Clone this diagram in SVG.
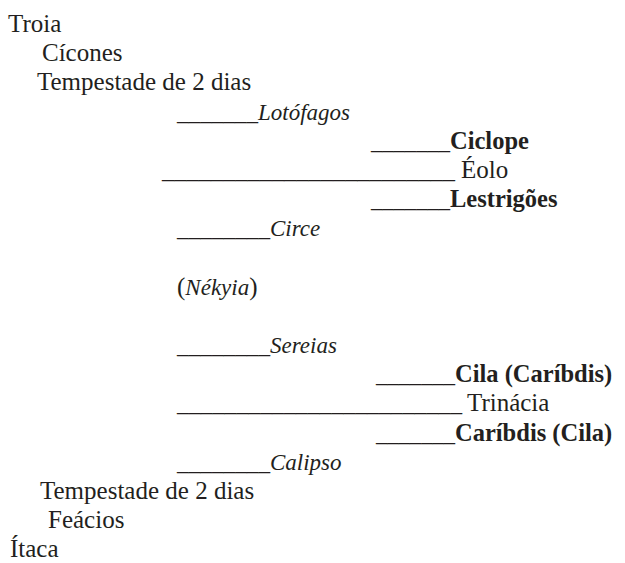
<svg xmlns="http://www.w3.org/2000/svg" width="625" height="563" viewBox="0 0 625 563">
<style>
text{font-family:'Liberation Serif','DejaVu Serif',serif;font-size:25px;fill:#231f20}
.i{font-style:italic;font-size:23px}
.b{font-weight:bold;font-size:24.5px}
.u{font-size:24px}
</style>
<rect width="625" height="563" fill="#fff"/>
<g id="troia"><text x="8" y="32">Troia</text></g>
<g id="cicones"><text x="42" y="61">Cícones</text></g>
<g id="tempestade1"><text x="37" y="90">Tempestade de 2 dias</text></g>
<g id="lotofagos"><text class="u" x="177" y="120" textLength="81" lengthAdjust="spacingAndGlyphs">_______</text><text class="i" x="258" y="120">Lotófagos</text></g>
<g id="ciclope"><text class="u" x="371" y="149" textLength="79" lengthAdjust="spacingAndGlyphs">_______</text><text class="b" x="450" y="149">Ciclope</text></g>
<g id="eolo"><text class="u" x="162" y="178" textLength="293" lengthAdjust="spacingAndGlyphs">________________________</text><text x="461" y="178">Éolo</text></g>
<g id="lestrigoes"><text class="u" x="371" y="207" textLength="79" lengthAdjust="spacingAndGlyphs">_______</text><text class="b" x="450" y="207">Lestrigões</text></g>
<g id="circe"><text class="u" x="177" y="236" textLength="93" lengthAdjust="spacingAndGlyphs">________</text><text class="i" x="270" y="236">Circe</text></g>
<g id="nekyia"><text x="177" y="295">(<tspan class="i">Nékyia</tspan>)</text></g>
<g id="sereias"><text class="u" x="177" y="353" textLength="93" lengthAdjust="spacingAndGlyphs">________</text><text class="i" x="270" y="353">Sereias</text></g>
<g id="cila"><text class="u" x="376" y="382" textLength="79" lengthAdjust="spacingAndGlyphs">_______</text><text class="b" x="455" y="382">Cila (Caríbdis)</text></g>
<g id="trinacia"><text class="u" x="177" y="411" textLength="285" lengthAdjust="spacingAndGlyphs">________________________</text><text x="467" y="411">Trinácia</text></g>
<g id="caribdis"><text class="u" x="376" y="441" textLength="79" lengthAdjust="spacingAndGlyphs">_______</text><text class="b" x="455" y="441">Caríbdis (Cila)</text></g>
<g id="calipso"><text class="u" x="177" y="470" textLength="93" lengthAdjust="spacingAndGlyphs">________</text><text class="i" x="270" y="470">Calipso</text></g>
<g id="tempestade2"><text x="40" y="499">Tempestade de 2 dias</text></g>
<g id="feacios"><text x="48" y="528">Feácios</text></g>
<g id="itaca"><text x="10" y="557">Ítaca</text></g>
<g id="connectors"></g>
</svg>
